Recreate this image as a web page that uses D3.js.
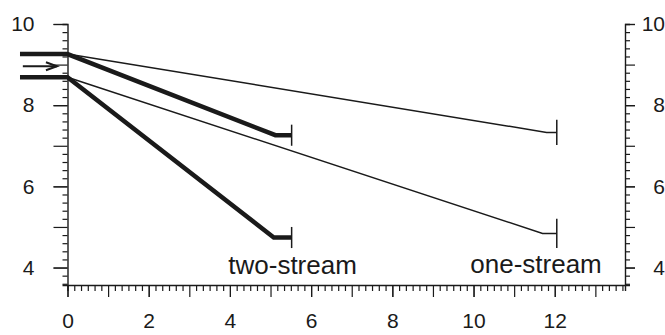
<!DOCTYPE html>
<html>
<head>
<meta charset="utf-8">
<script src="https://cdn.jsdelivr.net/npm/d3@7"></script>
<style>
  html, body { margin: 0; padding: 0; background: #fff; }
  svg { display: block; font-family: "Liberation Sans", Arial, sans-serif; }
</style>
</head>
<body>
<svg id="chart" width="665" height="335"></svg>
<script>
// ---- data ----
const xTickLabels = [0, 2, 4, 6, 8, 10, 12];
const yTickLabels = [4, 6, 8, 10];

const twoStreamUpperTimes = [-1.17, 0, 5.12, 5.52];
const twoStreamUpperValues = [9.26, 9.26, 7.26, 7.26];
const twoStreamLowerTimes = [-1.17, 0, 5.08, 5.52];
const twoStreamLowerValues = [8.69, 8.69, 4.74, 4.74];

const oneStreamUpperTimes = [0, 11.8, 12.05];
const oneStreamUpperValues = [9.26, 7.33, 7.33];
const oneStreamLowerTimes = [0, 11.7, 12.05];
const oneStreamLowerValues = [8.69, 4.84, 4.84];

// error caps: half-range around final value
const twoStreamErrors = [0.26, 0.26];
const oneStreamErrors = [0.31, 0.36];

const seriesLabels = ["two-stream", "one-stream"];
const arrowValue = 8.96;

// ---- layout ----
const svg = d3.select("#chart");
const x = d3.scaleLinear().domain([0, 13.73]).range([67.5, 625]);
const y = d3.scaleLinear().domain([3.57, 10]).range([285, 24]);
const ink = "#1a1a1a";

const range = (a, b, s) => { const r = []; for (let v = a; v <= b + 1e-9; v += s) r.push(+v.toFixed(4)); return r; };

function styleAxis(g) {
  g.selectAll("path.domain").attr("stroke", ink).attr("stroke-width", 1.4);
  g.selectAll(".tick line").attr("stroke", ink).attr("stroke-width", 1.2);
  g.selectAll("text").attr("fill", ink).style("font-size", "21px")
    .style("font-family", '"Liberation Sans", Arial, sans-serif');
}

// Bottom axis
const xMinor = range(0, 13.7, 1 / 6).filter(v => Math.abs(v - Math.round(v)) > 1e-3);
const xInt = range(0, 13, 1);
const gx = svg.append("g").attr("transform", `translate(0,${y.range()[0]})`);
gx.append("g").call(d3.axisBottom(x).tickValues(xMinor).tickSize(6).tickFormat("")).call(styleAxis);
gx.append("g").call(d3.axisBottom(x).tickValues(xInt).tickSize(12).tickFormat("")).call(styleAxis)
  .select("path.domain").remove();
gx.append("g").call(d3.axisBottom(x).tickValues(xTickLabels).tickSize(12).tickPadding(16).tickFormat(d3.format("d")))
  .call(styleAxis).select("path.domain").remove();

// Left axis
const yMinor = range(3.6, 10, 0.2).filter(v => Math.abs(v - Math.round(v)) > 1e-3);
const yInt = range(4, 10, 1);
const gl = svg.append("g").attr("transform", `translate(${x(0)},0)`);
gl.append("g").call(d3.axisLeft(y).tickValues(yMinor).tickSize(5).tickFormat("")).call(styleAxis);
gl.append("g").call(d3.axisLeft(y).tickValues(yInt).tickSize(14).tickFormat("")).call(styleAxis)
  .select("path.domain").remove();
gl.append("g").call(d3.axisLeft(y).tickValues(yTickLabels).tickSize(14).tickPadding(19).tickFormat(d3.format("d")))
  .call(styleAxis).select("path.domain").remove();

// Right axis
const gr = svg.append("g").attr("transform", `translate(${x.range()[1]},0)`);
gr.append("g").call(d3.axisRight(y).tickValues(yMinor).tickSize(5).tickFormat("")).call(styleAxis);
gr.append("g").call(d3.axisRight(y).tickValues(yInt).tickSize(10).tickFormat("")).call(styleAxis)
  .select("path.domain").remove();
const grl = gr.append("g").call(d3.axisRight(y).tickValues(yTickLabels).tickSize(10).tickFormat(d3.format("d")))
  .call(styleAxis);
grl.select("path.domain").remove();
grl.selectAll("text").attr("text-anchor", "end").attr("x", 665 - x.range()[1]);

// ---- series ----
const line = d3.line().x(d => x(d[0])).y(d => y(d[1]));
const series = [
  { t: twoStreamUpperTimes, v: twoStreamUpperValues, e: twoStreamErrors[0], w: 4.5 },
  { t: twoStreamLowerTimes, v: twoStreamLowerValues, e: twoStreamErrors[1], w: 4.5 },
  { t: oneStreamUpperTimes, v: oneStreamUpperValues, e: oneStreamErrors[0], w: 1.5 },
  { t: oneStreamLowerTimes, v: oneStreamLowerValues, e: oneStreamErrors[1], w: 1.5 }
];
series.forEach(s => {
  const pts = s.t.map((t, i) => [t, s.v[i]]);
  svg.append("path").attr("d", line(pts)).attr("fill", "none")
    .attr("stroke", ink).attr("stroke-width", s.w).attr("stroke-linejoin", "miter");
  const last = pts[pts.length - 1];
  svg.append("line")
    .attr("x1", x(last[0])).attr("x2", x(last[0]))
    .attr("y1", y(last[1] + s.e)).attr("y2", y(last[1] - s.e))
    .attr("stroke", ink).attr("stroke-width", 1.5);
});

// arrow
const ax0 = x(-1.1), ax1 = x(-0.26), ay = y(arrowValue);
svg.append("line").attr("x1", ax0).attr("x2", ax1).attr("y1", ay).attr("y2", ay)
  .attr("stroke", ink).attr("stroke-width", 2);
svg.append("path").attr("d", `M${ax1 - 11},${ay - 4}L${ax1},${ay}L${ax1 - 11},${ay + 4}`)
  .attr("fill", "none").attr("stroke", ink).attr("stroke-width", 2);

// series labels
svg.append("text").attr("x", x(3.96)).attr("y", y(3.85)).text(seriesLabels[0])
  .attr("fill", ink).style("font-size", "26px");
svg.append("text").attr("x", x(9.92)).attr("y", y(3.87)).text(seriesLabels[1])
  .attr("fill", ink).style("font-size", "26px");
</script>
</body>
</html>
